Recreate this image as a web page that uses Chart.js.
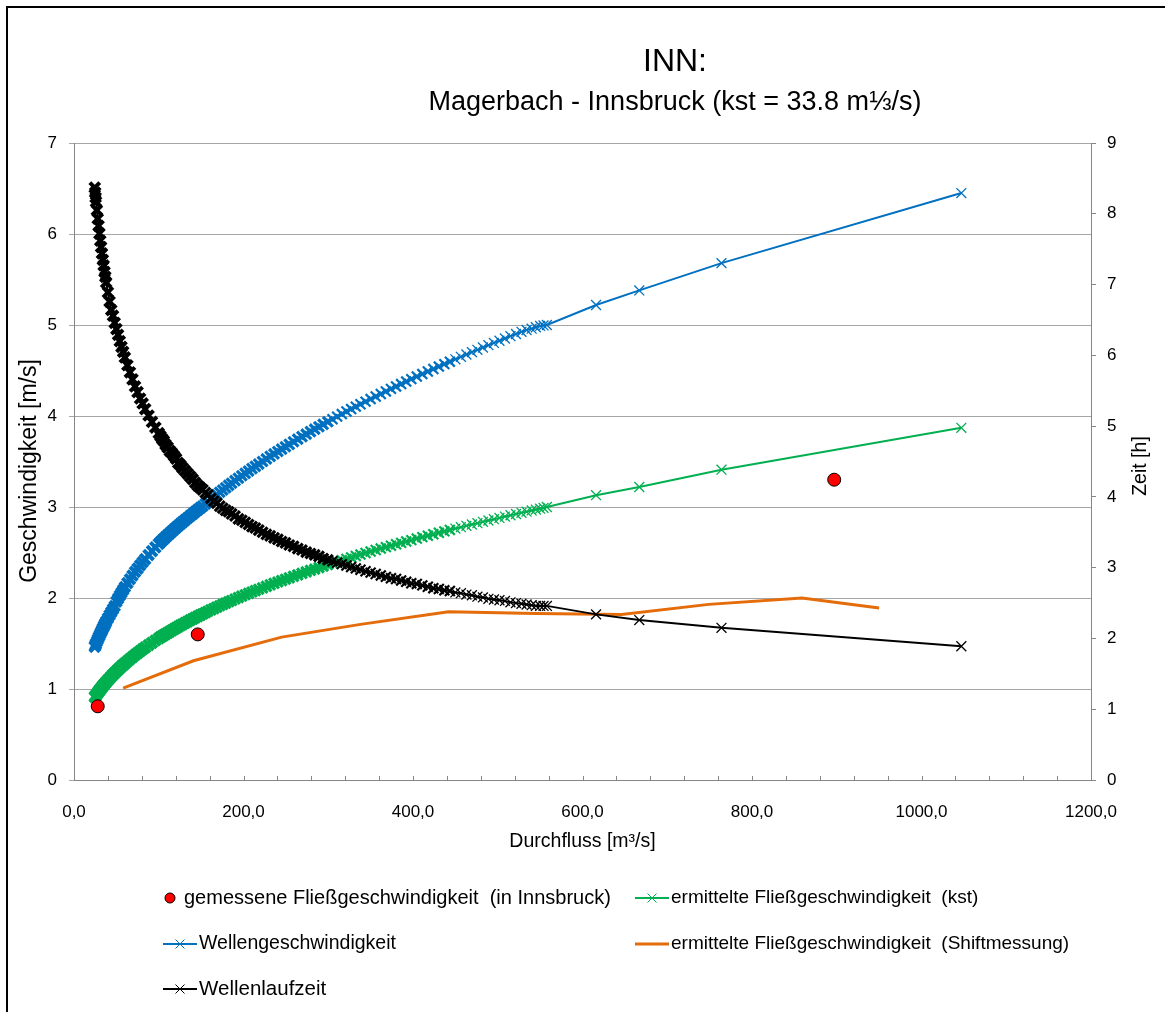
<!DOCTYPE html>
<html>
<head>
<meta charset="utf-8">
<title>INN: Magerbach - Innsbruck</title>
<script src="https://cdn.jsdelivr.net/npm/chart.js@4/dist/chart.umd.min.js"></script>
<style>
  html, body { margin: 0; padding: 0; background: #fff; }
  #wrap { width: 1165px; height: 1012px; }
</style>
</head>
<body>
<div id="wrap"><canvas id="chart" width="1165" height="1012"></canvas></div>
<script>
// Durchfluss [m³/s] of the computed points (shared by the three curves)
const flow = [
    24.5, 25, 25.5, 26, 27, 28, 29, 30, 31, 32, 33, 34, 35, 36, 37, 38,
    40, 42, 44, 46, 48, 50, 52, 54, 56, 58, 60,
    63, 66, 69, 72, 75, 78, 81, 84, 88, 92, 96,
    100, 102, 104, 106, 108, 110.5, 113, 115.5, 118, 120.5,
    123, 125.5, 128, 131, 134, 137, 140, 143, 146, 149,
    152, 155, 158, 161.5, 165, 168.5, 172, 175.5, 179, 182.5,
    186, 190, 194, 198, 202, 206, 210, 214, 218, 222.5,
    227, 231.5, 236, 240.5, 245, 249.5, 254, 259, 264, 269,
    274, 279, 284, 289, 294, 299.5, 305, 310.5, 316, 321.5,
    327, 332.5, 338, 344, 350, 356, 362, 368, 374, 380,
    386, 392, 398, 404.5, 411, 417.5, 424, 430.5, 437, 443.5,
    450, 456.5, 463, 469.5, 476, 482.5, 489, 495.5, 502, 508.5,
    515, 521.5, 528, 534, 540, 545, 550, 554, 558,
    616, 667, 764, 1047
];

// Wellengeschwindigkeit [m/s]
const waveSpeed = [
    1.464, 1.476, 1.488, 1.499, 1.522, 1.544, 1.565, 1.586, 1.607, 1.627, 1.647, 1.667, 1.686, 1.705, 1.723, 1.742,
    1.777, 1.812, 1.845, 1.878, 1.910, 1.960, 1.993, 2.026, 2.058, 2.089, 2.120,
    2.164, 2.206, 2.247, 2.287, 2.323, 2.359, 2.393, 2.427, 2.472, 2.515, 2.556,
    2.595, 2.614, 2.632, 2.650, 2.668, 2.690, 2.711, 2.732, 2.753, 2.774,
    2.794, 2.814, 2.833, 2.857, 2.879, 2.902, 2.924, 2.947, 2.969, 2.990,
    3.011, 3.035, 3.058, 3.084, 3.110, 3.136, 3.162, 3.187, 3.212, 3.237,
    3.261, 3.289, 3.316, 3.343, 3.369, 3.395, 3.421, 3.447, 3.472, 3.500,
    3.528, 3.556, 3.583, 3.610, 3.636, 3.662, 3.688, 3.717, 3.745, 3.773,
    3.800, 3.828, 3.855, 3.882, 3.908, 3.937, 3.965, 3.993, 4.021, 4.049,
    4.076, 4.103, 4.129, 4.158, 4.186, 4.214, 4.242, 4.270, 4.298, 4.325,
    4.351, 4.378, 4.405, 4.433, 4.461, 4.489, 4.516, 4.543, 4.570, 4.597,
    4.623, 4.650, 4.676, 4.702, 4.727, 4.753, 4.778, 4.803, 4.827, 4.852,
    4.877, 4.901, 4.925, 4.945, 4.960, 4.975, 4.990, 4.995, 5.000,
    5.22, 5.38, 5.68, 6.45
];

// ermittelte Fließgeschwindigkeit (kst) [m/s]
const flowSpeedKst = [
    0.911, 0.918, 0.925, 0.931, 0.945, 0.958, 0.971, 0.984, 0.996, 1.008, 1.020, 1.032, 1.043, 1.055, 1.066, 1.077,
    1.098, 1.118, 1.138, 1.158, 1.177, 1.195, 1.213, 1.231, 1.248, 1.265, 1.281,
    1.305, 1.329, 1.351, 1.374, 1.395, 1.416, 1.437, 1.457, 1.483, 1.508, 1.533,
    1.557, 1.569, 1.580, 1.592, 1.603, 1.617, 1.631, 1.645, 1.658, 1.672,
    1.685, 1.698, 1.711, 1.726, 1.741, 1.756, 1.770, 1.785, 1.799, 1.813,
    1.826, 1.840, 1.854, 1.869, 1.884, 1.900, 1.915, 1.930, 1.944, 1.959,
    1.973, 1.989, 2.005, 2.021, 2.036, 2.051, 2.066, 2.081, 2.096, 2.112,
    2.128, 2.144, 2.160, 2.176, 2.191, 2.206, 2.221, 2.238, 2.254, 2.271,
    2.287, 2.303, 2.318, 2.334, 2.349, 2.366, 2.382, 2.398, 2.414, 2.430,
    2.446, 2.462, 2.477, 2.494, 2.510, 2.527, 2.543, 2.559, 2.575, 2.591,
    2.606, 2.621, 2.636, 2.653, 2.669, 2.685, 2.701, 2.717, 2.732, 2.748,
    2.763, 2.778, 2.793, 2.808, 2.822, 2.837, 2.852, 2.866, 2.880, 2.895,
    2.909, 2.923, 2.936, 2.949, 2.962, 2.972, 2.982, 2.991, 3.000,
    3.13, 3.22, 3.41, 3.87
];

// Wellenlaufzeit [h] (right axis)
const travelTime = [
    8.37, 8.30, 8.23, 8.17, 8.05, 7.93, 7.83, 7.72, 7.62, 7.53, 7.44, 7.35, 7.27, 7.18, 7.11, 7.03,
    6.89, 6.76, 6.64, 6.56, 6.46, 6.37, 6.29, 6.20, 6.12, 6.05, 5.97,
    5.86, 5.76, 5.66, 5.56, 5.48, 5.39, 5.32, 5.24, 5.15, 5.06, 4.98,
    4.90, 4.86, 4.82, 4.79, 4.74, 4.70, 4.65, 4.62, 4.58, 4.54,
    4.48, 4.45, 4.41, 4.37, 4.33, 4.29, 4.25, 4.20, 4.16, 4.13,
    4.10, 4.06, 4.03, 3.98, 3.94, 3.91, 3.87, 3.84, 3.81, 3.79,
    3.76, 3.73, 3.69, 3.67, 3.64, 3.61, 3.58, 3.56, 3.53, 3.50,
    3.47, 3.45, 3.42, 3.40, 3.37, 3.35, 3.32, 3.30, 3.27, 3.25,
    3.22, 3.20, 3.18, 3.16, 3.13, 3.11, 3.09, 3.07, 3.05, 3.03,
    3.01, 2.99, 2.97, 2.95, 2.93, 2.91, 2.89, 2.87, 2.85, 2.84,
    2.82, 2.80, 2.78, 2.77, 2.75, 2.73, 2.71, 2.70, 2.68, 2.67,
    2.65, 2.64, 2.62, 2.61, 2.59, 2.58, 2.56, 2.55, 2.54, 2.53,
    2.51, 2.50, 2.49, 2.48, 2.47, 2.46, 2.46, 2.46, 2.46,
    2.34, 2.26, 2.15, 1.89
];

// gemessene Fließgeschwindigkeit (in Innsbruck)
const measuredFlow = [28, 146, 897];
const measuredSpeed = [0.81, 1.60, 3.30];

// ermittelte Fließgeschwindigkeit (Shiftmessung)
const shiftFlow = [58, 141, 245, 338, 442, 545, 646, 749, 859, 950];
const shiftSpeed = [1.01, 1.31, 1.57, 1.71, 1.85, 1.83, 1.82, 1.93, 2.00, 1.89];

const FONT = '"Liberation Sans", Arial, sans-serif';
Chart.defaults.font.family = FONT;
Chart.defaults.color = '#000';

function pts(xs, ys) {
    return xs.map((x, i) => ({ x: x, y: ys[i] }));
}

// crowded low-flow markers merge into a solid band in the original,
// the sparse ones at high flow are thin crosses
function markerWidth(c) {
    const q = c.raw ? c.raw.x : 0;
    if (q < 150) return 4;
    if (q < 300) return 3.2;
    if (q < 450) return 2.2;
    return 1.3;
}

function crossSeries(label, ys, color, axis, order) {
    return {
        label: label,
        data: pts(flow, ys),
        yAxisID: axis,
        showLine: true,
        borderColor: color,
        borderWidth: 2,
        pointStyle: 'crossRot',
        pointRadius: 7,
        pointBorderColor: color,
        pointBorderWidth: markerWidth,
        order: order
    };
}

const datasets = [
    {
        label: 'gemessene Fließgeschwindigkeit  (in Innsbruck)',
        data: pts(measuredFlow, measuredSpeed),
        yAxisID: 'y',
        showLine: false,
        pointStyle: 'circle',
        pointRadius: 6.5,
        pointBackgroundColor: '#ff0000',
        pointBorderColor: '#000',
        pointBorderWidth: 1,
        order: 0
    },
    crossSeries('ermittelte Fließgeschwindigkeit  (kst)', flowSpeedKst, '#00b050', 'y', 4),
    crossSeries('Wellengeschwindigkeit', waveSpeed, '#0070c0', 'y', 3),
    {
        label: 'ermittelte Fließgeschwindigkeit  (Shiftmessung)',
        data: pts(shiftFlow, shiftSpeed),
        yAxisID: 'y',
        showLine: true,
        borderColor: '#e46c0a',
        borderWidth: 3,
        pointRadius: 0,
        order: 2
    },
    crossSeries('Wellenlaufzeit', travelTime, '#000000', 'y1', 1)
];

// legend entry places: symbol x, row y, text size
const legendSpots = [[163, 898, 20], [635, 898, 19], [163, 944, 19.5], [635, 944, 19], [163, 989, 20.5]];

const decor = {
    id: 'decor',
    beforeDraw(chart) {
        const ctx = chart.ctx;
        ctx.save();
        ctx.fillStyle = '#fff';
        ctx.fillRect(0, 0, chart.width, chart.height);
        ctx.restore();
    },
    afterDraw(chart) {
        const ctx = chart.ctx;
        const xs = chart.scales.x;
        ctx.save();

        // chart frame (runs off the right and bottom edge)
        ctx.strokeStyle = '#000';
        ctx.lineWidth = 2;
        ctx.strokeRect(7, 7, chart.width + 20, chart.height + 20);

        // small ticks on the x axis, pointing inwards
        ctx.strokeStyle = '#868686';
        ctx.lineWidth = 1;
        for (let v = 40; v < 1200; v += 40) {
            const px = Math.round(xs.getPixelForValue(v)) + 0.5;
            ctx.beginPath();
            ctx.moveTo(px, xs.top);
            ctx.lineTo(px, xs.top - 4);
            ctx.stroke();
        }

        // titles
        ctx.fillStyle = '#000';
        ctx.textAlign = 'center';
        ctx.textBaseline = 'middle';
        ctx.font = '32px ' + FONT;
        ctx.fillText('INN:', 675, 62);
        ctx.font = '27px ' + FONT;
        ctx.fillText('Magerbach - Innsbruck (kst = 33.8 m\u2153/s)', 675, 103);

        // axis titles, both reading upwards
        ctx.save();
        ctx.font = '23px ' + FONT;
        ctx.translate(30, 471);
        ctx.rotate(-Math.PI / 2);
        ctx.fillText('Geschwindigkeit [m/s]', 0, 0);
        ctx.restore();

        ctx.save();
        ctx.font = '19.5px ' + FONT;
        ctx.translate(1141, 466);
        ctx.rotate(-Math.PI / 2);
        ctx.fillText('Zeit [h]', 0, 0);
        ctx.restore();

        // legend
        ctx.textAlign = 'left';
        chart.data.datasets.forEach((ds, i) => {
            const [lx, ly, fs] = legendSpots[i];
            ctx.font = fs + 'px ' + FONT;
            if (!ds.showLine) {
                ctx.beginPath();
                ctx.arc(lx + 7, ly, 5, 0, Math.PI * 2);
                ctx.fillStyle = ds.pointBackgroundColor;
                ctx.fill();
                ctx.strokeStyle = ds.pointBorderColor;
                ctx.lineWidth = 1;
                ctx.stroke();
                ctx.fillStyle = '#000';
                ctx.fillText(ds.label, lx + 21, ly);
                return;
            }
            ctx.strokeStyle = ds.borderColor;
            ctx.lineWidth = ds.borderWidth;
            ctx.beginPath();
            ctx.moveTo(lx, ly);
            ctx.lineTo(lx + 34, ly);
            ctx.stroke();
            if (ds.pointRadius) {
                const r = 4.5;
                ctx.lineWidth = 1;
                ctx.beginPath();
                ctx.moveTo(lx + 17 - r, ly - r);
                ctx.lineTo(lx + 17 + r, ly + r);
                ctx.moveTo(lx + 17 - r, ly + r);
                ctx.lineTo(lx + 17 + r, ly - r);
                ctx.stroke();
            }
            ctx.fillStyle = '#000';
            ctx.fillText(ds.label, lx + 36, ly);
        });

        ctx.restore();
    }
};

new Chart(document.getElementById('chart'), {
    type: 'scatter',
    data: { datasets: datasets },
    options: {
        responsive: false,
        animation: false,
        layout: { padding: { top: 143, bottom: 152, left: 0, right: 0 } },
        plugins: {
            legend: { display: false },
            tooltip: { enabled: false }
        },
        scales: {
            x: {
                type: 'linear',
                min: 0,
                max: 1200,
                afterFit: s => { s.height = 80; },
                ticks: {
                    stepSize: 200,
                    padding: 22,
                    maxRotation: 0,
                    font: { size: 17 },
                    callback: v => v.toFixed(1).replace('.', ',')
                },
                grid: { drawOnChartArea: false, drawTicks: false },
                border: { color: '#868686' },
                title: {
                    display: true,
                    text: 'Durchfluss [m³/s]',
                    font: { size: 19.5 },
                    padding: { top: 0, bottom: 7 }
                }
            },
            y: {
                position: 'left',
                min: 0,
                max: 7,
                afterFit: s => { s.width = 74; },
                ticks: { stepSize: 1, padding: 12, font: { size: 17 } },
                grid: { color: '#a6a6a6', tickLength: 5 },
                border: { color: '#868686' }
            },
            y1: {
                position: 'right',
                min: 0,
                max: 9,
                afterFit: s => { s.width = 74; },
                ticks: { stepSize: 1, padding: 11, font: { size: 17 } },
                grid: { drawOnChartArea: false, color: '#868686', tickLength: 5 },
                border: { color: '#868686' }
            }
        }
    },
    plugins: [decor]
});
</script>
</body>
</html>
